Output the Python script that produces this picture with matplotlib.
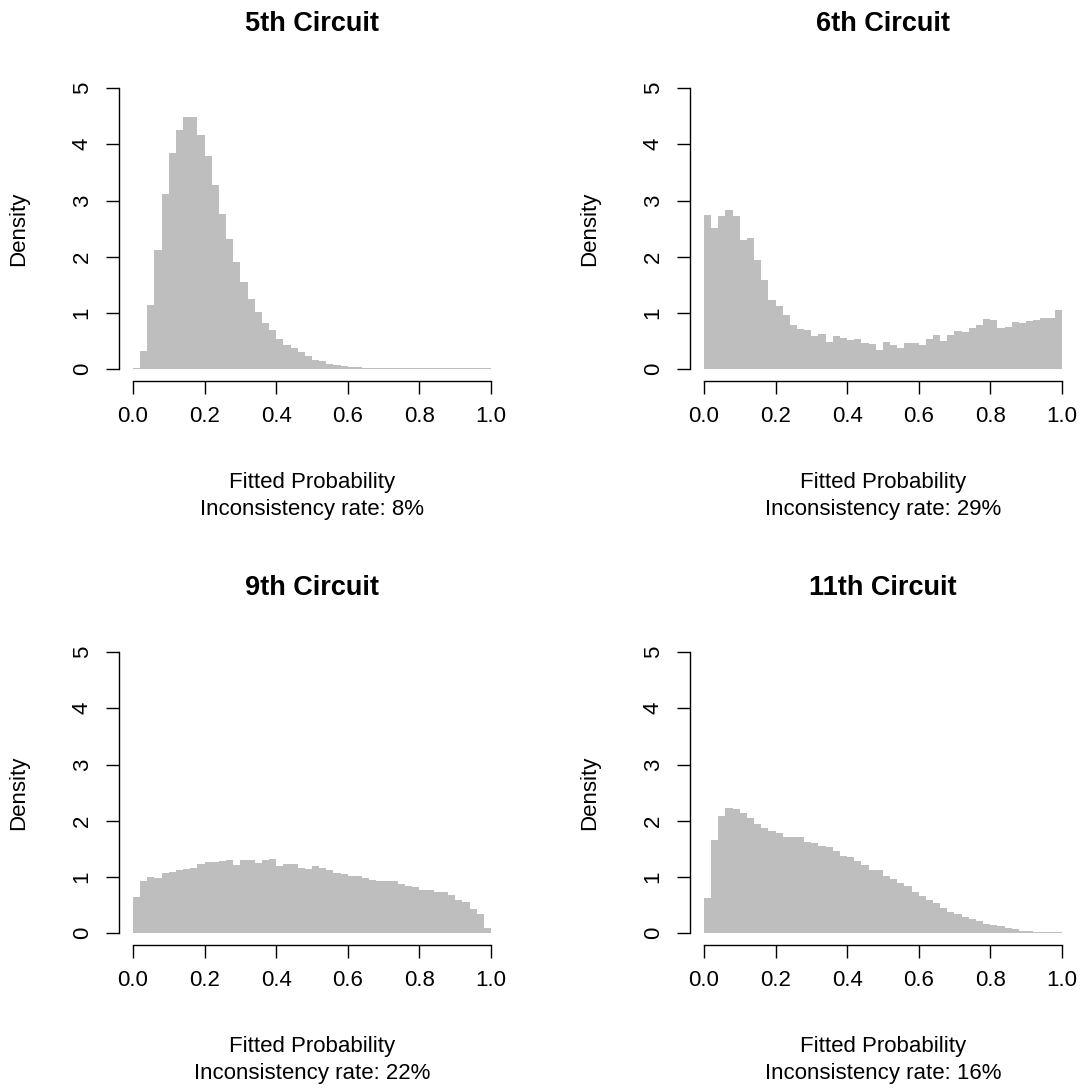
import numpy as np
import matplotlib
matplotlib.use("Agg")
import matplotlib.pyplot as plt

plt.rcParams['font.family'] = ['Liberation Sans', 'DejaVu Sans']

W, H = 1087, 1089

bin_edges = np.linspace(0, 1, 51)

titles = ["5th Circuit", "6th Circuit", "9th Circuit", "11th Circuit"]
rates = ["8%", "29%", "22%", "16%"]

d5 = [0.02, 0.33, 1.14, 2.12, 3.12, 3.84, 4.25, 4.48, 4.48, 4.17,
      3.80, 3.28, 2.76, 2.32, 1.91, 1.55, 1.25, 1.01, 0.83, 0.69,
      0.54, 0.43, 0.37, 0.30, 0.24, 0.17, 0.15, 0.10, 0.08, 0.06,
      0.04, 0.035, 0.025, 0.015, 0.025, 0.015, 0.015, 0.015, 0.015, 0.015,
      0.015, 0.015, 0.015, 0.015, 0.015, 0.015, 0.015, 0.015, 0.015, 0.015]
d6 = [2.75, 2.51, 2.72, 2.83, 2.72, 2.30, 2.33, 1.94, 1.59, 1.23,
      1.13, 0.97, 0.79, 0.72, 0.69, 0.59, 0.63, 0.49, 0.59, 0.56,
      0.52, 0.54, 0.47, 0.45, 0.34, 0.49, 0.43, 0.38, 0.47, 0.47,
      0.44, 0.54, 0.61, 0.50, 0.61, 0.68, 0.66, 0.73, 0.79, 0.89,
      0.88, 0.73, 0.75, 0.84, 0.82, 0.86, 0.88, 0.91, 0.91, 1.06]
d9 = [0.65, 0.93, 1.00, 0.98, 1.07, 1.09, 1.13, 1.15, 1.16, 1.23,
      1.27, 1.27, 1.29, 1.30, 1.22, 1.30, 1.30, 1.25, 1.30, 1.32,
      1.20, 1.23, 1.23, 1.16, 1.15, 1.20, 1.16, 1.13, 1.08, 1.06,
      1.02, 1.02, 0.98, 0.95, 0.93, 0.93, 0.93, 0.88, 0.84, 0.82,
      0.77, 0.77, 0.73, 0.73, 0.68, 0.59, 0.56, 0.43, 0.34, 0.095]
d11 = [0.63, 1.66, 2.09, 2.23, 2.21, 2.14, 2.05, 1.95, 1.87, 1.82,
       1.78, 1.71, 1.71, 1.71, 1.62, 1.60, 1.55, 1.53, 1.46, 1.37,
       1.35, 1.28, 1.21, 1.12, 1.12, 1.02, 0.97, 0.89, 0.84, 0.73,
       0.66, 0.59, 0.54, 0.45, 0.38, 0.34, 0.29, 0.25, 0.21, 0.16,
       0.15, 0.13, 0.09, 0.08, 0.045, 0.04, 0.025, 0.018, 0.015, 0.015]
densities = [d5, d6, d9, d11]

x_ticks = [0.0, 0.2, 0.4, 0.6, 0.8, 1.0]
x_tick_labels = ["0.0", "0.2", "0.4", "0.6", "0.8", "1.0"]
y_ticks = [0, 1, 2, 3, 4, 5]

fig = plt.figure(figsize=(W / 100, H / 100), dpi=100)

# plot-region pixel boxes (left, top)
lefts = [118.7, 689.6]
tops = [76.8, 640.8]
pw, ph = 386.6, 303.7

fs = 16
for i in range(4):
    r, c = divmod(i, 2)
    L, T = lefts[c], tops[r]
    ax = fig.add_axes([L / W, 1 - (T + ph) / H, pw / W, ph / H])
    ax.stairs(densities[i], bin_edges, fill=True, color='#BEBEBE', linewidth=0)
    ax.set_xlim(-0.04, 1.04)
    ax.set_ylim(-0.2, 5.2)
    for s in ['top', 'right']:
        ax.spines[s].set_visible(False)
    ax.spines['left'].set_bounds(0, 5)
    ax.spines['bottom'].set_bounds(0, 1)
    for s in ['left', 'bottom']:
        ax.spines[s].set_linewidth(1.0)
    ax.set_xticks(x_ticks)
    ax.set_xticklabels(x_tick_labels)
    ax.set_yticks(y_ticks)
    ax.tick_params(axis='both', length=9.7, width=1.0, labelsize=fs, direction='out')
    ax.tick_params(axis='x', pad=8.5)
    ax.tick_params(axis='y', pad=9, labelrotation=90)
    for lab in ax.get_yticklabels():
        lab.set_va('center')
    cx = L + pw / 2
    fig.text(cx / W, 1 - (T - 46.1) / H, titles[i], ha='center', va='baseline',
             fontsize=19.5, fontweight='bold')
    fig.text(cx / W, 1 - (T + 410.9) / H, "Fitted Probability", ha='center',
             va='baseline', fontsize=fs)
    fig.text(cx / W, 1 - (T + 438.2) / H, "Inconsistency rate: " + rates[i],
             ha='center', va='baseline', fontsize=fs)
    fig.text((L - 99.7) / W, 1 - (T + ph / 2) / H, "Density", ha='center',
             va='center', rotation=90, fontsize=fs)

fig.savefig("out.png", dpi=100)
